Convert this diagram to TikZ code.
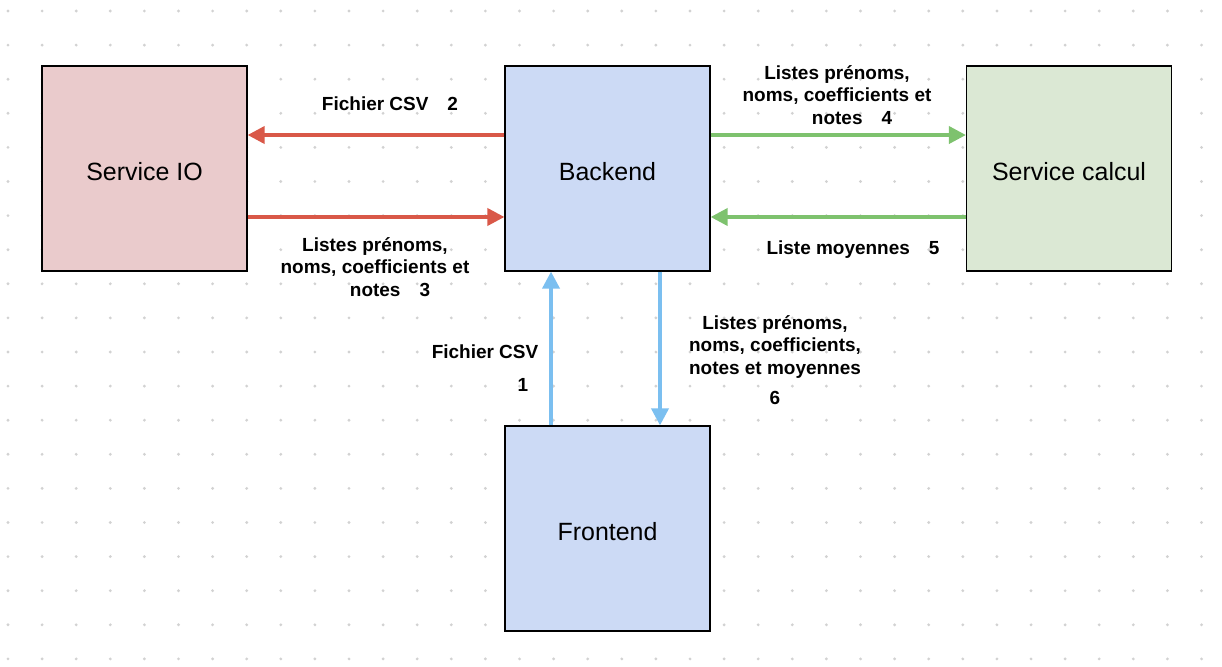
\documentclass[tikz,border=0pt]{standalone}
\usepackage{fontspec}
\setmainfont{Liberation Sans}
\usepackage{tikz}
\usetikzlibrary{arrows.meta}

\definecolor{ioFill}{RGB}{234,203,204}
\definecolor{beFill}{RGB}{204,218,245}
\definecolor{calcFill}{RGB}{219,232,212}
\definecolor{redArrow}{RGB}{217,88,72}
\definecolor{greenArrow}{RGB}{126,194,110}
\definecolor{blueArrow}{RGB}{123,191,240}

\begin{document}
\begin{tikzpicture}[x=0.02cm, y=-0.02cm, >={Triangle[length=0.34cm, width=0.34cm]},
    box/.style={draw=black, line width=0.7pt, minimum width=4.1cm, minimum height=4.1cm, inner sep=0pt, text height=0.47cm, text depth=0cm, font=\fontsize{14.2}{17}\selectfont},
    flow/.style={line width=2.1pt, ->},
    lbl/.style={font=\bfseries\fontsize{10.8}{12.8}\selectfont, align=center, inner sep=0pt}]
    \useasboundingbox (0,0) rectangle (1222,666);

    % Dotted background grid
    \foreach \i in {0,...,35}
        \foreach \j in {0,...,19}
            \fill[gray!35] (8+34.1*\i, 11+34.1*\j) circle[radius=0.9pt];

    % The services
    \node (io) at (144.5,168.5) [box, fill=ioFill] {Service IO};
    \node (backend) at (607.5,168.5) [box, fill=beFill] {Backend};
    \node (calcul) at (1069,168.5) [box, fill=calcFill] {Service calcul};
    \node (frontend) at (607.5,528.5) [box, fill=beFill] {Frontend};

    % Backend <-> Service IO
    \draw[flow, redArrow] ([yshift=0.67cm]backend.west) -- ([yshift=0.67cm]io.east);
    \draw[flow, redArrow] ([yshift=-0.97cm]io.east) -- ([yshift=-0.97cm]backend.west);
    \node (l2) at (390,104) [lbl] {Fichier CSV\quad 2};
    \node (l3) at (375,267) [lbl] {Listes prénoms,\\noms, coefficients et\\\hspace*{0.6cm}notes\quad 3};

    % Backend <-> Service calcul
    \draw[flow, greenArrow] ([yshift=0.67cm]backend.east) -- ([yshift=0.67cm]calcul.west);
    \draw[flow, greenArrow] ([yshift=-0.97cm]calcul.west) -- ([yshift=-0.97cm]backend.east);
    \node (l4) at (837,95) [lbl] {Listes prénoms,\\noms, coefficients et\\\hspace*{0.6cm}notes\quad 4};
    \node (l5) at (853,250) [lbl] {Liste moyennes\quad 5};

    % Frontend <-> Backend
    \draw[flow, blueArrow] ([xshift=-1.13cm]frontend.north) -- ([xshift=-1.13cm]backend.south);
    \draw[flow, blueArrow] ([xshift=1.05cm]backend.south) -- ([xshift=1.05cm]frontend.north);
    \node (l1) at (485,368.5) [lbl] {Fichier CSV\\[0.21cm]\hspace*{1.52cm}1};
    \node (l6) at (775,360) [lbl] {Listes prénoms,\\noms, coefficients,\\notes et moyennes\\[0.15cm]6};
\end{tikzpicture}
\end{document}
